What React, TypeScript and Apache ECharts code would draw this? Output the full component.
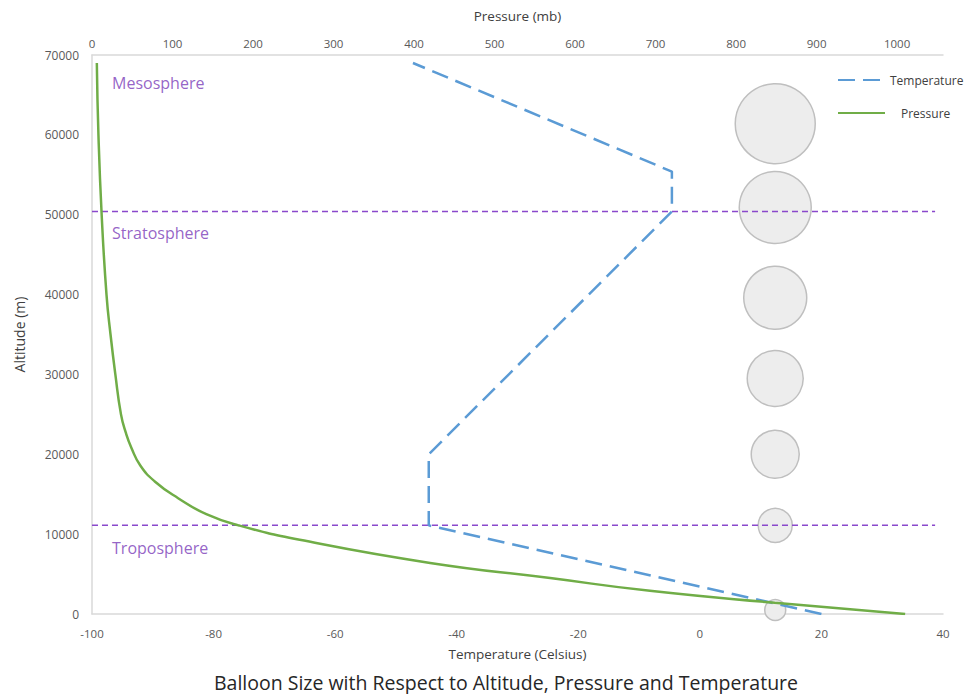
import React, { useEffect, useRef } from "react";
import * as echarts from "echarts";

// Temperature profile (Celsius vs altitude in m)
const temperatureC = [20, -44.6, -44.6, -4.6, -4.6, -47.2];
const temperatureAlt = [0, 11100, 20000, 50400, 55400, 69000];

// Pressure profile (mb vs altitude in m)
const pressureMb = [1010, 848, 693, 569, 420, 258, 182, 142, 107, 78, 60, 49, 42, 36, 29, 23, 18, 12, 8, 6];
const pressureAlt = [0, 1400, 2900, 4500, 6400, 9300, 11100, 12500, 14500, 16600, 18600, 20800, 22700, 25000, 30000, 35000, 40000, 50000, 60000, 69000];

// Balloons
const balloonTemp = 12.4;
const balloonAlt = [500, 11100, 20000, 29500, 39600, 50900, 61400];
const balloonSize = [21, 34, 48, 56, 63, 72, 80];

// Layer boundaries
const boundaryAlt = [11100, 50400];
const boundaryTempRange = [-100, 38.7];

// Layer labels
const layerNames = ["Troposphere", "Stratosphere", "Mesosphere"];
const layerLabelAlt = [8250, 47750, 66500];
const layerLabelTemp = -96.7;

// Axes
const tempMin = -100, tempMax = 40, tempStep = 20;
const presMin = 0, presMax = 1057, presStep = 100;
const altMin = 0, altMax = 70000, altStep = 10000;

const FONT = "Open Sans";

export default function App() {
  const ref = useRef<HTMLDivElement>(null);
  useEffect(() => {
    document.body.style.margin = "0";
    const chart = echarts.init(ref.current!, null, { renderer: "svg" });
    const axisLineStyle = { color: "#D9D9D9", width: 1.5 };
    const tickLabel = { color: "#595959", fontSize: 11.5, fontFamily: FONT };
    const nameStyle = { color: "#404040", fontSize: 13.5, fontFamily: FONT };
    const option: any = {
      animation: false,
      backgroundColor: "#ffffff",
      title: {
        text: "Balloon Size with Respect to Altitude, Pressure and Temperature",
        left: 501,
        textAlign: "center",
        top: 667,
        textStyle: { color: "#262626", fontSize: 19.5, fontWeight: "normal", fontFamily: FONT },
      },
      legend: {
        orient: "vertical",
        left: 832,
        top: 69,
        itemWidth: 47,
        itemHeight: 14,
        itemGap: 21,
        data: ["Temperature", "Pressure"],
        itemStyle: { opacity: 0 },
        textStyle: { color: "#404040", fontSize: 12, fontFamily: FONT, rich: { p: { padding: [0, 0, 0, 11], fontSize: 12, color: "#404040", fontFamily: FONT } } },
        formatter: (n: string) => (n === "Pressure" ? "{p|Pressure}" : n),
      },
      grid: { left: 92, right: 26, top: 55, bottom: 80 },
      xAxis: [
        {
          type: "value",
          position: "bottom",
          min: tempMin,
          max: tempMax,
          interval: tempStep,
          splitLine: { show: false },
          axisTick: { show: false },
          axisLine: { show: true, onZero: false, lineStyle: axisLineStyle },
          axisLabel: { ...tickLabel, margin: 13 },
          name: "Temperature (Celsius)",
          nameLocation: "middle",
          nameGap: 33,
          nameTextStyle: nameStyle,
        },
        {
          type: "value",
          position: "top",
          min: presMin,
          max: presMax,
          interval: presStep,
          splitLine: { show: false },
          axisTick: { show: false },
          axisLine: { show: true, onZero: false, lineStyle: axisLineStyle },
          axisLabel: { ...tickLabel, margin: 6, formatter: (v: number) => (v % presStep === 0 ? String(v) : "") },
          name: "Pressure (mb)",
          nameLocation: "middle",
          nameGap: 32,
          nameTextStyle: nameStyle,
        },
      ],
      yAxis: {
        type: "value",
        min: altMin,
        max: altMax,
        interval: altStep,
        splitLine: { show: false },
        axisTick: { show: false },
        axisLine: { show: true, onZero: false, lineStyle: axisLineStyle },
        axisLabel: { ...tickLabel, fontSize: 12, margin: 13, formatter: (v: number) => String(v) },
        name: "Altitude (m)",
        nameLocation: "middle",
        nameGap: 66,
        nameTextStyle: { ...nameStyle, fontSize: 14 },
      },
      series: [
        ...boundaryAlt.map((a, i) => ({
          name: "boundary" + i,
          type: "line",
          xAxisIndex: 0,
          symbol: "none",
          silent: true,
          data: boundaryTempRange.map((t) => [t, a]),
          lineStyle: { color: "#8A48CC", width: 1.5, type: [6, 4] },
        })),
        {
          name: "Temperature",
          type: "line",
          xAxisIndex: 0,
          symbol: "none",
          data: temperatureC.map((t, i) => [t, temperatureAlt[i]]),
          lineStyle: { color: "#5B9BD5", width: 2.5, type: [17, 8] },
          itemStyle: { color: "#5B9BD5" },
        },
        {
          name: "Balloons",
          type: "scatter",
          xAxisIndex: 0,
          silent: true,
          data: balloonAlt.map((a, i) => [balloonTemp, a, balloonSize[i]]),
          symbolSize: (v: number[]) => v[2],
          itemStyle: { color: "#EDEDED", borderColor: "#BFBFBF", borderWidth: 1.5, opacity: 1 },
        },
        {
          name: "Pressure",
          type: "line",
          xAxisIndex: 1,
          symbol: "none",
          smooth: 0.5,
          data: pressureMb.map((p, i) => [p, pressureAlt[i]]),
          lineStyle: { color: "#70AD47", width: 2.5 },
          itemStyle: { color: "#70AD47" },
        },
        {
          name: "Layers",
          type: "scatter",
          xAxisIndex: 0,
          silent: true,
          symbolSize: 0,
          data: layerNames.map((n, i) => ({ name: n, value: [layerLabelTemp, layerLabelAlt[i]] })),
          label: {
            show: true,
            position: "right",
            distance: 0,
            formatter: (p: any) => p.name,
            color: "#7A3BB8",
            fontSize: 16,
            fontFamily: FONT,
          },
        },
      ],
    };
    chart.setOption(option);
    return () => chart.dispose();
  }, []);
  return <div ref={ref} style={{ width: "969px", height: "694px" }} />;
}
